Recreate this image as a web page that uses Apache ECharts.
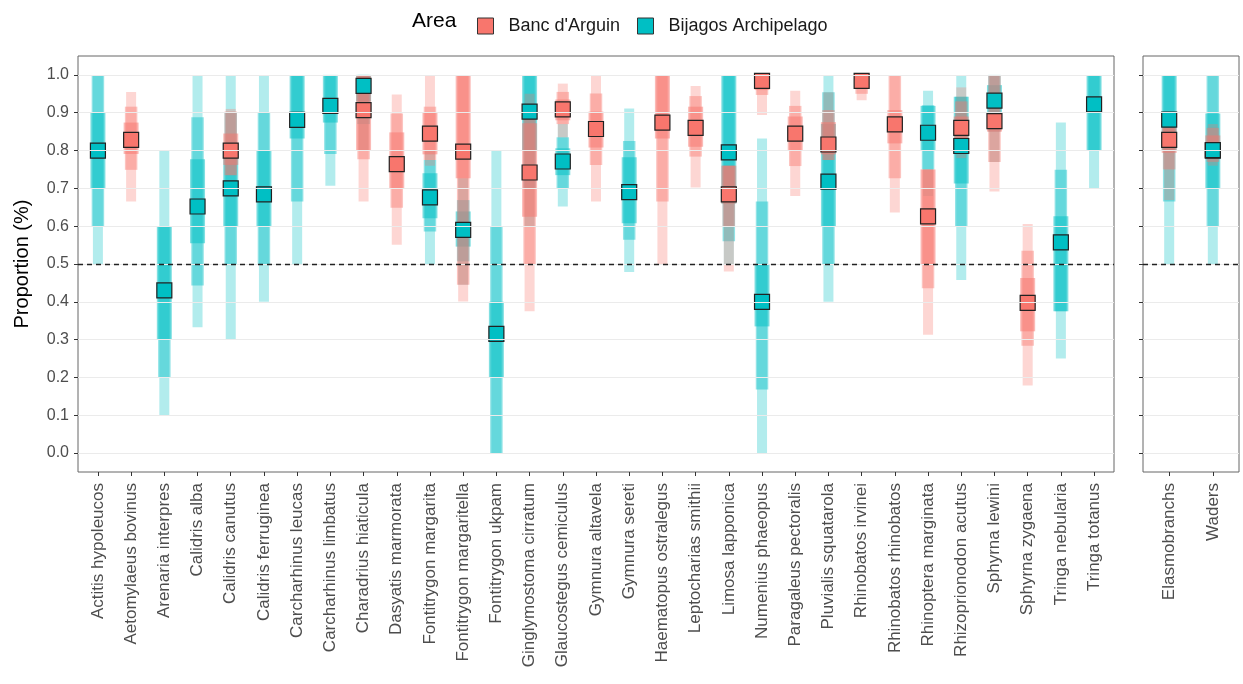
<!DOCTYPE html>
<html>
<head>
<meta charset="utf-8">
<script src="https://cdn.jsdelivr.net/npm/echarts@6/dist/echarts.min.js"></script>
<style>
  html, body { margin: 0; padding: 0; background: #fff; }
  #chart { width: 1243px; height: 684px; }
</style>
</head>
<body>
<div id="chart"></div>
<script>
// Species panel categories
const species = [
  'Actitis hypoleucos', 'Aetomylaeus bovinus', 'Arenaria interpres', 'Calidris alba',
  'Calidris canutus', 'Calidris ferruginea', 'Carcharhinus leucas', 'Carcharhinus limbatus',
  'Charadrius hiaticula', 'Dasyatis marmorata', 'Fontitrygon margarita', 'Fontitrygon margaritella',
  'Fontitrygon ukpam', 'Ginglymostoma cirratum', 'Glaucostegus cemiculus', 'Gymnura altavela',
  'Gymnura sereti', 'Haematopus ostralegus', 'Leptocharias smithii', 'Limosa lapponica',
  'Numenius phaeopus', 'Paragaleus pectoralis', 'Pluvialis squatarola', 'Rhinobatos irvinei',
  'Rhinobatos rhinobatos', 'Rhinoptera marginata', 'Rhizoprionodon acutus', 'Sphyrna lewini',
  'Sphyrna zygaena', 'Tringa nebularia', 'Tringa totanus'
];
// Pooled panel categories
const groups = ['Elasmobranchs', 'Waders'];
const yTicks = [0, 0.1, 0.2, 0.3, 0.4, 0.5, 0.6, 0.7, 0.8, 0.9, 1.0];

// Banc d'Arguin: median and nested intervals (outer / mid / inner), null = not sampled
const bancMedian = [null, 0.828, null, null, 0.80, null, null, null, 0.907, 0.764, 0.845, 0.797, null, 0.742, 0.909, 0.857,
  null, 0.874, 0.86, 0.684, 0.984, 0.845, 0.816, 0.984, 0.869, 0.626, 0.86, 0.878, 0.397, null, null];
const bancOuter = [null, [0.665, 0.955], null, null, [0.735, 0.91], null, null, null, [0.665, 1], [0.551, 0.948],
  [0.76, 1], [0.401, 1], null, [0.375, 0.95], [0.835, 0.977], [0.665, 1], null, [0.5, 1], [0.702, 0.971],
  [0.48, 0.76], [0.894, 1], [0.68, 0.958], [0.775, 0.954], [0.933, 1], [0.636, 1], [0.313, 0.75],
  [0.78, 0.967], [0.692, 1], [0.179, 0.606], null, null];
const bancMid = [null, [0.749, 0.916], null, null, [0.735, 0.903], null, null, null, [0.777, 1], [0.649, 0.898],
  [0.775, 0.916], [0.445, 1], null, [0.5, 0.9], [0.87, 0.955], [0.762, 0.951], null, [0.665, 1], [0.784, 0.944],
  [0.6, 0.76], [0.947, 1], [0.759, 0.918], [0.775, 0.907], [0.95, 1], [0.727, 1], [0.436, 0.75],
  [0.8, 0.93], [0.77, 1], [0.284, 0.535], null, null];
const bancInner = [null, [0.791, 0.874], null, null, [0.762, 0.845], null, null, null, [0.8, 1], [0.699, 0.848],
  [0.79, 0.9], [0.727, 1], null, [0.625, 0.872], [0.88, 0.935], [0.808, 0.903], null, [0.832, 1], [0.81, 0.916],
  [0.66, 0.76], [0.96, 1], [0.801, 0.89], [0.79, 0.875], [0.965, 1], [0.819, 0.907], [0.5, 0.75],
  [0.83, 0.89], [0.85, 0.9], [0.322, 0.463], null, null];

// Bijagos Archipelago
const bijagosMedian = [0.80, null, 0.43, 0.652, 0.70, 0.684, 0.881, 0.918, 0.971, null, 0.676, 0.59, 0.315, 0.903, 0.771,
  null, 0.69, null, null, 0.795, 0.40, null, 0.718, null, null, 0.847, 0.812, 0.932, null, 0.557, 0.922];
const bijagosOuter = [[0.5, 1], null, [0.1, 0.8], [0.333, 1], [0.3, 1], [0.4, 1], [0.5, 1], [0.707, 1], [0.8, 1], null,
  [0.5, 0.8], [0.445, 0.727], [0, 0.8], [0.6, 1], [0.652, 0.87], null, [0.479, 0.911], null, null, [0.5, 1],
  [0, 0.832], null, [0.4, 1], null, null, [0.68, 0.958], [0.458, 1], [0.77, 1], null, [0.25, 0.874], [0.7, 1]];
const bijagosMid = [[0.6, 1], null, [0.2, 0.6], [0.443, 0.888], [0.5, 0.9], [0.5, 0.9], [0.665, 1], [0.791, 1], [0.87, 1], null,
  [0.586, 0.775], [0.507, 0.669], [0, 0.6], [0.7, 1], [0.7, 0.835], null, [0.564, 0.825], null, null, [0.56, 1],
  [0.168, 0.665], null, [0.5, 0.954], null, null, [0.75, 0.92], [0.6, 0.942], [0.85, 1], null, [0.375, 0.749], [0.8, 1]];
const bijagosInner = [[0.7, 0.9], null, [0.3, 0.6], [0.555, 0.777], [0.6, 0.8], [0.6, 0.8], [0.832, 1], [0.874, 1], [0.93, 1], null,
  [0.621, 0.74], [0.546, 0.639], [0.2, 0.4], [0.8, 1], [0.735, 0.806], null, [0.608, 0.782], null, null, [0.66, 1],
  [0.335, 0.5], null, [0.6, 0.87], null, null, [0.8, 0.918], [0.713, 0.942], [0.894, 0.973], null, [0.375, 0.626], [0.8, 1]];

// Pooled groups
const bancGroupMedian = [0.828, 0.80];
const bancGroupOuter = [[0.669, 0.86], [0.76, 0.87]];
const bancGroupMid = [[0.75, 0.86], [0.77, 0.86]];
const bancGroupInner = [[0.794, 0.86], [0.78, 0.84]];
const bijagosGroupMedian = [0.882, 0.801];
const bijagosGroupOuter = [[0.5, 1], [0.5, 1]];
const bijagosGroupMid = [[0.665, 1], [0.6, 1]];
const bijagosGroupInner = [[0.8, 1], [0.7, 0.898]];

const AREA_BANC = "Banc d'Arguin";
const AREA_BIJ = 'Bijagos Archipelago';
const RED = '#F8766D';
const TEAL = '#00BFC4';
const FONT = "'Liberation Sans', Arial, Helvetica, sans-serif";

function rgba(hex, a) {
  const n = parseInt(hex.slice(1), 16);
  return 'rgba(' + (n >> 16 & 255) + ',' + (n >> 8 & 255) + ',' + (n & 255) + ',' + a + ')';
}

function toRanges(list) {
  const out = [];
  list.forEach((r, i) => { if (r) out.push([i, r[0], r[1]]); });
  return out;
}
function toPoints(list) {
  const out = [];
  list.forEach((v, i) => { if (v != null) out.push([i, v]); });
  return out;
}

// Vertical interval band drawn through the axis scales
function band(axisIdx, ranges, color, alpha, width) {
  return {
    type: 'custom',
    xAxisIndex: axisIdx, yAxisIndex: axisIdx,
    silent: true, animation: false, z: 2,
    data: toRanges(ranges),
    encode: { x: 0, y: [1, 2] },
    renderItem: function (params, api) {
      const x = api.value(0);
      const top = api.coord([x, api.value(2)]);
      const bot = api.coord([x, api.value(1)]);
      return {
        type: 'rect',
        shape: { x: top[0] - width / 2, y: top[1], width: width, height: bot[1] - top[1] },
        style: { fill: rgba(color, alpha) }
      };
    }
  };
}

function medians(axisIdx, name, values, color) {
  return {
    type: 'scatter', name: name,
    xAxisIndex: axisIdx, yAxisIndex: axisIdx,
    data: toPoints(values),
    symbol: 'rect', symbolSize: 15, z: 4, animation: false,
    itemStyle: { color: color, borderColor: '#222', borderWidth: 1.2, opacity: 1 }
  };
}

function guides(axisIdx) {
  return [{
    type: 'line', xAxisIndex: axisIdx, yAxisIndex: axisIdx, data: [], z: 1, silent: true, animation: false,
    markLine: {
      silent: true, symbol: ['none', 'none'], label: { show: false }, animation: false,
      lineStyle: { color: '#ebebeb', width: 1, type: 'solid' },
      data: yTicks.map(v => ({ yAxis: v }))
    }
  }, {
    type: 'line', xAxisIndex: axisIdx, yAxisIndex: axisIdx, data: [], z: 3, silent: true, animation: false,
    markLine: {
      silent: true, symbol: ['none', 'none'], label: { show: false }, animation: false,
      lineStyle: { color: '#222', width: 1.3, type: [5, 4] },
      data: [{ yAxis: 0.5 }]
    }
  }];
}

function intervalLayers(axisIdx, outer, mid, inner, color) {
  return [
    band(axisIdx, outer, color, 0.3, 10),
    band(axisIdx, mid, color, 0.43, 12.5),
    band(axisIdx, inner, color, 0.5, 15)
  ];
}

const xIdx = species.map((_, i) => i);
const gIdx = groups.map((_, i) => i);

function xAxisDef(grid, labels, idx) {
  return {
    gridIndex: grid, type: 'value', min: -0.6, max: labels.length - 0.4, position: 'bottom',
    axisLine: { show: false, onZero: false }, splitLine: { show: false },
    axisTick: { show: true, customValues: idx, length: 4, lineStyle: { color: '#333', width: 1 } },
    axisLabel: {
      customValues: idx, rotate: 90, margin: 11, fontSize: 17, color: '#4d4d4d', fontFamily: FONT,
      formatter: v => labels[Math.round(v)]
    }
  };
}
function yAxisDef(grid, showLabels) {
  return {
    gridIndex: grid, type: 'value', min: -0.05, max: 1.05, position: 'left',
    name: showLabels ? 'Proportion (%)' : '',
    nameLocation: 'middle', nameGap: 46,
    nameTextStyle: { fontSize: 20, color: '#000', fontFamily: FONT },
    axisLine: { show: false, onZero: false }, splitLine: { show: false },
    axisTick: { show: true, customValues: yTicks, length: 4, lineStyle: { color: '#333', width: 1 } },
    axisLabel: {
      show: showLabels, customValues: yTicks, margin: 9, fontSize: 16, color: '#4d4d4d', fontFamily: FONT,
      formatter: v => v.toFixed(1)
    }
  };
}

const chart = echarts.init(document.getElementById('chart'), null, { renderer: 'canvas' });
chart.setOption({
  animation: false,
  backgroundColor: '#fff',
  textStyle: { fontFamily: FONT },
  grid: [
    { left: 78, top: 56, width: 1036, height: 416, show: true, borderColor: '#666', borderWidth: 1, backgroundColor: '#fff' },
    { left: 1143, top: 56, width: 96, height: 416, show: true, borderColor: '#666', borderWidth: 1, backgroundColor: '#fff' }
  ],
  xAxis: [xAxisDef(0, species, xIdx), xAxisDef(1, groups, gIdx)],
  yAxis: [yAxisDef(0, true), yAxisDef(1, false)],
  legend: {
    data: [AREA_BANC, AREA_BIJ], left: 472, top: 12, icon: 'rect',
    itemWidth: 16, itemHeight: 16, itemGap: 17, selectedMode: false,
    itemStyle: { borderColor: '#333', borderWidth: 1 },
    textStyle: { fontSize: 18, color: '#1a1a1a', padding: [0, 0, 0, 10], fontFamily: FONT }
  },
  graphic: [{
    type: 'text', left: 412, top: 11,
    style: { text: 'Area', fontSize: 21, fill: '#000', fontFamily: FONT }
  }],
  series: [].concat(
    guides(0), guides(1),
    intervalLayers(0, bijagosOuter, bijagosMid, bijagosInner, TEAL),
    intervalLayers(0, bancOuter, bancMid, bancInner, RED),
    intervalLayers(1, bijagosGroupOuter, bijagosGroupMid, bijagosGroupInner, TEAL),
    intervalLayers(1, bancGroupOuter, bancGroupMid, bancGroupInner, RED),
    [
      medians(0, AREA_BANC, bancMedian, RED),
      medians(1, AREA_BANC, bancGroupMedian, RED),
      medians(0, AREA_BIJ, bijagosMedian, TEAL),
      medians(1, AREA_BIJ, bijagosGroupMedian, TEAL)
    ]
  )
});
</script>
</body>
</html>
